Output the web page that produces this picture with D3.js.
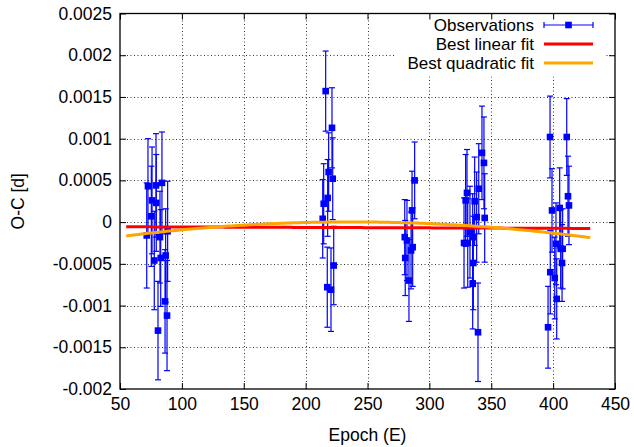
<!DOCTYPE html>
<html><head><meta charset="utf-8">
<script src="https://cdn.jsdelivr.net/npm/d3@7"></script>
<style>body{margin:0;background:#fff}svg{display:block;font-family:"Liberation Sans",Arial,sans-serif}</style>
</head><body><svg id="c" width="634" height="447"></svg>
<script>
// Observations: epoch, O-C [d], error [d]
const epochs = [72.6,75.9,75.3,79.1,79.3,83.9,71.6,82.3,88.5,77.7,82.9,86.9,86.4,88.0,80.7,
  216.2,221.3,218.6,221.9,217.8,214.6,213.8,222.7,217.5,220.5,
  288.1,286.0,280.1,281.9,286.5,285.2,280.5,283.5,
  342.5,344.1,339.9,336.6,330.4,329.3,338.2,344.7,332.8,335.0,328.0,331.0,335.5,335.0,339.3,
  397.5,411.0,412.0,412.8,399.1,405.3,402.3,406.1,407.7,407.2,397.7,401.3,402.9,395.9];
const ocValues = [0.00043,0.00026,0.00007,0.00044,0.00023,0.00047,-0.00016,-0.00018,-0.00011,-0.00046,-0.00043,-0.00040,-0.00095,-0.00112,-0.00130,
  0.00157,0.00113,0.00060,0.00052,0.00029,0.00022,0.00004,-0.00052,-0.00078,-0.00081,
  0.00050,0.00014,-0.00018,-0.00022,-0.00030,-0.00034,-0.00043,-0.00070,
  0.00083,0.00071,0.00040,0.00025,0.00035,0.00026,0.00006,0.00005,-0.00012,-0.00018,-0.00025,-0.00025,-0.00049,-0.00074,-0.00132,
  0.00102,0.00102,0.00031,0.00020,0.00014,0.00017,-0.00026,-0.00032,-0.00032,-0.00049,-0.00060,-0.00067,-0.00092,-0.00126];
const ocErrors = [0.00057,0.00064,0.00060,0.00062,0.00058,0.00061,0.00063,0.00055,0.00060,0.00059,0.00058,0.00056,0.00062,0.00066,0.00059,
  0.00048,0.00048,0.00047,0.00049,0.00046,0.00048,0.00047,0.00047,0.00048,0.00050,
  0.00046,0.00047,0.00045,0.00048,0.00047,0.00046,0.00045,0.00049,
  0.00056,0.00055,0.00054,0.00053,0.00052,0.00055,0.00054,0.00053,0.00055,0.00052,0.00054,0.00053,0.00056,0.00054,0.00059,
  0.00049,0.00046,0.00048,0.00047,0.00050,0.00048,0.00049,0.00047,0.00048,0.00046,0.00050,0.00049,0.00048,0.00049];
// Fit parameters (coefficients of the fitted polynomials) and fit range
const linearFit = [-0.000053, -5.33e-8];
const quadraticFit = [-0.0002816, 2.3937e-6, -5.05e-9];
const fitRange = [55, 430];
const xTicks = [50,100,150,200,250,300,350,400,450];
const yTicks = [-0.002,-0.0015,-0.001,-0.0005,0,0.0005,0.001,0.0015,0.002,0.0025];
const yTickLabels = ["-0.002","-0.0015","-0.001","-0.0005","0","0.0005","0.001","0.0015","0.002","0.0025"];
const legendLabels = ["Observations","Best linear fit","Best quadratic fit"];

const L=120,R=615,T=13.5,B=389;
const svg=d3.select("#c");
const x=d3.scaleLinear().domain([50,450]).range([L,R]);
const y=d3.scaleLinear().domain([-0.002,0.0025]).range([B,T]);
const fs=17.5;

// grid
const grid=svg.append("g").attr("stroke","#333").attr("stroke-width",1).attr("stroke-dasharray","1,2.5");
xTicks.slice(1,-1).forEach(t=>grid.append("line").attr("x1",Math.round(x(t))+0.5).attr("x2",Math.round(x(t))+0.5).attr("y1",T).attr("y2",B));
yTicks.slice(1,-1).forEach(t=>grid.append("line").attr("y1",Math.round(y(t))+0.5).attr("y2",Math.round(y(t))+0.5).attr("x1",L).attr("x2",R));

// legend background
svg.append("rect").attr("x",396).attr("y",T+1).attr("width",209).attr("height",62).attr("fill","#fff");

// axes with mirrored inward ticks
const ax=svg.append("g");
ax.append("g").attr("transform",`translate(0,${B})`).call(d3.axisBottom(x).tickValues(xTicks).tickSize(-6).tickPadding(9).tickFormat(d3.format("d")));
ax.append("g").attr("transform",`translate(0,${T})`).call(d3.axisTop(x).tickValues(xTicks).tickSize(-6).tickFormat(""));
ax.append("g").attr("transform",`translate(${L},0)`).call(d3.axisLeft(y).tickValues(yTicks).tickSize(-6).tickPadding(8).tickFormat((d,i)=>yTickLabels[i]));
ax.append("g").attr("transform",`translate(${R},0)`).call(d3.axisRight(y).tickValues(yTicks).tickSize(-6).tickFormat(""));
ax.selectAll(".domain").remove();
ax.selectAll("line").attr("stroke","#000");
ax.selectAll("text").attr("font-size",fs).attr("font-family","Liberation Sans, Arial, sans-serif").attr("fill","#000");
svg.append("rect").attr("x",L).attr("y",T).attr("width",R-L).attr("height",B-T).attr("fill","none").attr("stroke","#000").attr("stroke-width",1.3);

// observations
const blue="#0000ff";
const obs=svg.append("g");
epochs.forEach((e,i)=>{
  const cx=x(e), v=ocValues[i], er=ocErrors[i];
  const g=obs.append("g").attr("stroke",blue).attr("stroke-width",1.2);
  g.append("line").attr("x1",cx).attr("x2",cx).attr("y1",y(v+er)).attr("y2",y(v-er));
  g.append("line").attr("x1",cx-3).attr("x2",cx+3).attr("y1",y(v+er)).attr("y2",y(v+er));
  g.append("line").attr("x1",cx-3).attr("x2",cx+3).attr("y1",y(v-er)).attr("y2",y(v-er));
});
epochs.forEach((e,i)=>{
  obs.append("rect").attr("x",x(e)-3.3).attr("y",y(ocValues[i])-3.3).attr("width",6.6).attr("height",6.6).attr("fill",blue);
});

// fits
const fitE=d3.range(fitRange[0],fitRange[1]+0.01,2.5);
const line=d3.line().x(d=>x(d[0])).y(d=>y(d[1]));
svg.append("path").datum(fitE.map(e=>[e,linearFit[0]+linearFit[1]*e])).attr("d",line).attr("fill","none").attr("stroke","#ff0000").attr("stroke-width",3);
svg.append("path").datum(fitE.map(e=>[e,quadraticFit[0]+quadraticFit[1]*e+quadraticFit[2]*e*e])).attr("d",line).attr("fill","none").attr("stroke","#ffa500").attr("stroke-width",3);

// legend
const lg=svg.append("g");
const rows=[25,44,63];
legendLabels.forEach((t,i)=>{
  lg.append("text").attr("x",534).attr("y",rows[i]+6).attr("text-anchor","end").attr("font-size",17).text(t);
});
const lgB=lg.append("g").attr("stroke",blue).attr("stroke-width",1.2);
lgB.append("line").attr("x1",544).attr("x2",593).attr("y1",rows[0]).attr("y2",rows[0]);
lgB.append("line").attr("x1",544).attr("x2",544).attr("y1",rows[0]-3).attr("y2",rows[0]+3);
lgB.append("line").attr("x1",593).attr("x2",593).attr("y1",rows[0]-3).attr("y2",rows[0]+3);
lg.append("rect").attr("x",568.5-3.3).attr("y",rows[0]-3.3).attr("width",6.6).attr("height",6.6).attr("fill",blue);
lg.append("line").attr("x1",544).attr("x2",593).attr("y1",rows[1]).attr("y2",rows[1]).attr("stroke","#ff0000").attr("stroke-width",3);
lg.append("line").attr("x1",544).attr("x2",593).attr("y1",rows[2]).attr("y2",rows[2]).attr("stroke","#ffa500").attr("stroke-width",3);

// axis titles
svg.append("text").attr("x",(L+R)/2).attr("y",441).attr("text-anchor","middle").attr("font-size",fs).text("Epoch (E)");
svg.append("text").attr("transform",`translate(24,${(T+B)/2}) rotate(-90)`).attr("text-anchor","middle").attr("font-size",fs).text("O-C [d]");
</script></body></html>
